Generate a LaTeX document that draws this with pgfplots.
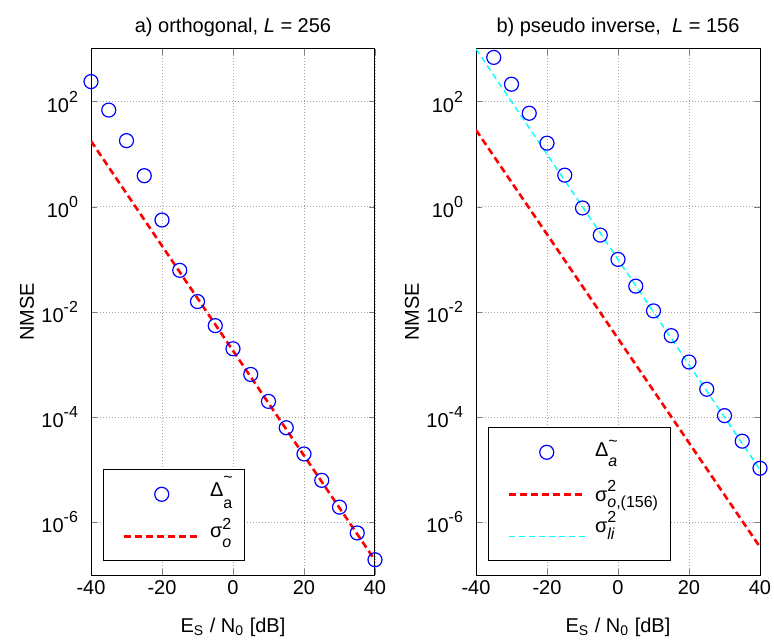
\documentclass[border=0pt]{standalone}
\usepackage{fontspec}
\setmainfont{Liberation Sans}
\usepackage{pgfplots}
\pgfplotsset{compat=1.18}
\definecolor{mblue}{RGB}{0,0,255}
\definecolor{mred}{RGB}{255,0,0}
\definecolor{mcyan}{RGB}{0,255,255}
\newcommand\lsup[2]{\rlap{\raisebox{#1}{\footnotesize #2}}}
\newcommand\lsub[2]{\raisebox{#1}{\footnotesize #2}}
\newcommand\tsup[1]{10\raisebox{5pt}{\footnotesize #1}}
\pgfplotsset{legend image code/.code={\path (0pt,0pt) (46pt,0pt); \draw[mark repeat=2,mark phase=2,#1] plot coordinates {(5.5pt,0pt) (24.5pt,0pt) (43.5pt,0pt)};}}
\pgfplotsset{
  every axis/.append style={
    scale only axis, width=142pt, height=263pt,
    xmin=-40, xmax=40, ymin=1e-7, ymax=1e3,
    xtick={-40,-20,0,20,40}, xticklabels={-40,-20,0,20,40},
    ytick={1e-6,1e-4,1e-2,1,1e2},
    yticklabels={\tsup{-6},\tsup{-4},\tsup{-2},\tsup{0},\tsup{2}},
    yminorticks=false, xminorticks=false,
    grid=major, major grid style={dash pattern=on 0.5pt off 1pt, gray!70, line width=0.4pt},
    tick align=inside, tick pos=both, major tick length=3pt,
    axis line style={line width=0.5pt},
    xticklabel style={yshift=1pt},
    yticklabel style={xshift=-3pt},
    xlabel={E\textsubscript{S} / N\textsubscript{0} [dB]},
    ylabel={NMSE},
    every axis x label/.style={at={(axis description cs:0.5,0)}, yshift=-28.5pt, anchor=base},
    every axis y label/.style={at={(axis description cs:0,0.5)}, xshift=-32pt, rotate=90, anchor=center},
    title style={at={(axis description cs:0.5,1)}, anchor=base, yshift=2pt},
    legend style={at={(axis description cs:0.042,0.027)}, anchor=south west,
      draw=black, line width=0.5pt, fill=white, inner xsep=4pt, inner ysep=2pt,
      row sep=0.5pt,
      nodes={inner ysep=0pt, text height=10.5pt, text depth=10pt}, cells={anchor=base west}},
  },
}
\begin{document}
\begin{tikzpicture}
\begin{semilogyaxis}[title={a) orthogonal, \textit{L} = 256}]
\addplot[only marks, mark=o, mblue, mark size=3.5pt, mark options={line width=0.6pt}] coordinates {
(-40,240) (-35,69) (-30,18.1) (-25,3.9) (-20,0.56) (-15,0.062) (-10,0.0158) (-5,0.0055)
(0,0.0020) (5,6.5e-4) (10,2.0e-4) (15,6.3e-5) (20,2.0e-5) (25,6.3e-6) (30,1.95e-6) (35,6.3e-7) (40,1.95e-7)};
\addlegendentry{\raisebox{-0.85pt}{Δ\lsup{7pt}{\textasciitilde}\lsub{-6pt}{a}}\hspace{-3pt}}
\addplot[mred, line width=1.3pt, dash pattern=on 3.5pt off 2pt] coordinates {(-40,17.8) (40,1.9e-7)};
\addlegendentry{\raisebox{-0.65pt}{σ\lsup{4pt}{2}\lsub{-5pt}{\textit{o}}}\hspace{-3pt}}
\end{semilogyaxis}
\begin{semilogyaxis}[at={(192.5pt,0pt)}, title={b) pseudo inverse,\ \ \textit{L} = 156}]
\addplot[only marks, mark=o, mblue, mark size=3.5pt, mark options={line width=0.6pt}] coordinates {
(-35,692) (-30,214) (-25,60) (-20,16.2) (-15,4.0) (-10,0.95) (-5,0.29) (0,0.10)
(5,0.031) (10,0.0105) (15,0.00355) (20,0.00112) (25,3.4e-4) (30,1.07e-4) (35,3.5e-5) (40,1.07e-5)};
\addlegendentry{\raisebox{-2pt}{Δ\lsup{5pt}{\textasciitilde}\lsub{-5pt}{\textit{a}}}}
\addplot[mred, line width=1.3pt, dash pattern=on 3.5pt off 2pt] coordinates {(-40,28.8) (40,3.4e-7)};
\addlegendentry{\raisebox{-3.7pt}{σ\lsup{5pt}{2}\lsub{-2.8pt}{\textit{o},(156)}}}
\addplot[mcyan, line width=0.7pt, dash pattern=on 3pt off 2pt] coordinates {(-40,1e3) (40,1e-5)};
\addlegendentry{\raisebox{1.85pt}{σ\lsup{5pt}{2}\lsub{-3.5pt}{\textit{li}}}}
\end{semilogyaxis}
\pgfresetboundingbox
\path[use as bounding box] (-45.5pt,-33pt) rectangle (341.5pt,287.5pt);
\end{tikzpicture}
\end{document}
